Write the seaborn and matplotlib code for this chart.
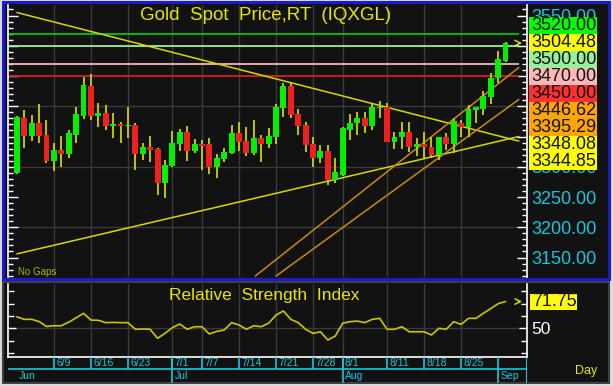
import numpy as np
import pandas as pd
import seaborn as sns
import matplotlib.pyplot as plt
from matplotlib.patches import Rectangle
from matplotlib.ticker import MultipleLocator, FormatStrFormatter


# ---------------- DATA ---------------- #

dates = pd.bdate_range("2025-06-02", "2025-09-02")

opens = [3290, 3381, 3351, 3373, 3353, 3309, 3327, 3321, 3353, 3384, 3434,
         3384, 3389, 3367, 3370, 3367, 3369, 3321, 3333, 3329, 3273, 3301,
         3337, 3357, 3326, 3338, 3337, 3299, 3313, 3322, 3356, 3343, 3323,
         3347, 3337, 3350, 3397, 3434, 3387, 3369, 3337, 3314, 3326, 3278,
         3286, 3361, 3372, 3381, 3368, 3397, 3398, 3341, 3349, 3358, 3333,
         3338, 3332, 3319, 3349, 3338, 3373, 3365, 3394, 3395, 3416, 3446,
         3475]
highs = [3384, 3394, 3385, 3403, 3377, 3339, 3351, 3361, 3399, 3449, 3454,
         3406, 3402, 3389, 3374, 3398, 3372, 3339, 3351, 3331, 3311, 3359,
         3362, 3367, 3346, 3344, 3347, 3321, 3331, 3369, 3374, 3366, 3377,
         3352, 3364, 3403, 3438, 3438, 3395, 3374, 3350, 3336, 3336, 3315,
         3366, 3387, 3391, 3391, 3403, 3409, 3405, 3358, 3374, 3374, 3347,
         3358, 3350, 3349, 3355, 3380, 3377, 3402, 3398, 3425, 3455, 3492,
         3506]
lows = [3288, 3331, 3343, 3339, 3306, 3293, 3300, 3314, 3339, 3379, 3377,
        3365, 3361, 3347, 3339, 3347, 3295, 3311, 3308, 3253, 3248, 3300,
        3326, 3310, 3322, 3295, 3288, 3281, 3308, 3321, 3326, 3318, 3319,
        3308, 3331, 3337, 3383, 3381, 3352, 3325, 3300, 3307, 3270, 3274,
        3284, 3344, 3352, 3355, 3361, 3380, 3341, 3330, 3330, 3325, 3318,
        3314, 3314, 3312, 3328, 3322, 3350, 3350, 3372, 3386, 3404, 3438,
        3474]
closes = [3382, 3351, 3373, 3351, 3310, 3327, 3321, 3355, 3387, 3435, 3384,
          3389, 3367, 3370, 3367, 3369, 3321, 3333, 3328, 3273, 3303, 3339,
          3357, 3326, 3337, 3335, 3300, 3315, 3325, 3355, 3341, 3323, 3347,
          3338, 3351, 3398, 3434, 3386, 3367, 3336, 3314, 3326, 3278, 3291,
          3364, 3373, 3381, 3368, 3398, 3399, 3341, 3349, 3357, 3333, 3338,
          3332, 3319, 3349, 3338, 3376, 3366, 3395, 3398, 3417, 3447, 3478,
          3504.48]

rsi = [59.4, 57.3, 57.3, 55.5, 51.5, 52.1, 52.1, 55.0, 58.5, 62.2, 56.7,
       56.5, 54.6, 54.8, 54.6, 54.6, 49.2, 49.5, 49.2, 41.9, 45.9, 50.5,
       53.5, 49.2, 51.3, 51.3, 45.4, 47.5, 48.6, 54.6, 52.7, 49.2, 52.1,
       51.3, 54.1, 60.8, 64.1, 57.3, 54.6, 49.2, 45.9, 47.2, 40.5, 43.7,
       54.1, 55.4, 55.9, 54.6, 57.3, 58.1, 49.2, 49.2, 51.3, 47.2, 47.2,
       47.2, 44.6, 50.0, 49.2, 55.4, 53.2, 58.1, 58.1, 62.2, 66.0, 70.0,
       71.75]

levels = [3520, 3500, 3470, 3450]
level_colors = ["#00c800", "#a0e8a0", "#f0b8b8", "#d42020"]

# trendlines: (index anchors, price anchors)
trend_yellow_down = ([0, 66], [3555.0, 3348.08])
trend_yellow_up = ([0, 66], [3156.0, 3344.85])
trend_orange_hi = ([32.2, 66], [3119.4, 3446.62])
trend_orange_lo = ([35.0, 66], [3119.4, 3395.29])

box_values = [3520.00, 3504.48, 3500.00, 3470.00, 3450.00,
              3446.62, 3395.29, 3348.08, 3344.85]
box_colors = ["#00ff00", "#ffff00", "#98f098", "#ffb8b8", "#ff3030",
              "#ffa500", "#ffa500", "#ffff00", "#ffff00"]

week_labels = ["6/9", "6/16", "6/23", "7/1", "7/7", "7/14", "7/21",
               "7/28", "8/1", "8/11", "8/18", "8/25"]
month_labels = ["Jun", "Jul", "Aug", "Sep"]
month_numbers = [6, 7, 8, 9]

rsi_last = 71.75


# ---------------- LAYOUT HELPERS ---------------- #

W, H = 613, 386
CYAN = "#18c8dc"
YELLOW = "#e6e600"
BG = "#121212"
GRID = "#3a3a3a"


def px_rect(x0, y0, x1, y1):
    return [x0 / W, 1 - y1 / H, (x1 - x0) / W, (y1 - y0) / H]


def fig_box(fig, x0, y0, x1, y1, **kw):
    r = Rectangle((x0 / W, 1 - y1 / H), (x1 - x0) / W, (y1 - y0) / H,
                  transform=fig.transFigure, **kw)
    fig.add_artist(r)
    return r


def extend(line, x_end=67.8, x_start=None):
    xs, ys = line
    slope = (ys[1] - ys[0]) / (xs[1] - xs[0])
    x0 = xs[0] if x_start is None else x_start
    return [x0, x_end], [ys[0] + slope * (x0 - xs[0]), ys[0] + slope * (x_end - xs[0])]


sns.set_style("dark", {"axes.facecolor": BG})
plt.rcParams["font.family"] = ["Liberation Sans", "DejaVu Sans"]

idx = np.arange(len(dates))
week_idx = [dates.get_loc(pd.Timestamp(2025, int(s.split("/")[0]), int(s.split("/")[1])))
            for s in week_labels]
month_idx = [int(np.where(dates.month == m)[0][0]) for m in month_numbers]
xlim = (-1.2, 68.9)

fig = plt.figure(figsize=(W / 100, H / 100), dpi=100, facecolor="#dcdcdc")

# panel backgrounds
fig_box(fig, 3, 2, 609, 279, facecolor=BG, edgecolor="#1a1ad2", lw=2.2, zorder=-2)
fig_box(fig, 3, 282, 609, 383, facecolor=BG, edgecolor="#404040", lw=1.5, zorder=-2)

# ---------------- PRICE PANEL ---------------- #

ax = fig.add_axes(px_rect(8, 5, 527, 277))
ax.set_facecolor(BG)
ax.set_xlim(*xlim)
ax.set_ylim(3117.8, 3567.4)

for g in [3200, 3300, 3400, 3500]:
    ax.axhline(g, color=GRID, lw=1, zorder=0)
for w in week_idx:
    ax.axvline(w, color=GRID, lw=1, zorder=0)

for lv, lc in zip(levels, level_colors):
    ax.hlines(lv, xlim[0], 67.8, color=lc, lw=1.3, zorder=1)

for line, col, start in [(trend_yellow_down, "#d8d800", None),
                         (trend_yellow_up, "#d8d800", None),
                         (trend_orange_hi, "#c88a10", None),
                         (trend_orange_lo, "#c88a10", None)]:
    xs, ys = extend(line, x_start=start)
    ax.plot(xs, ys, color=col, lw=1.1, zorder=2)

o = np.array(opens, dtype=float)
c = np.array(closes, dtype=float)
up = c >= o
body_colors = np.where(up, "#00f000", "#f02020")
ax.vlines(idx, lows, highs, color="#d0d000", lw=1.3, zorder=3)
ax.bar(idx, np.maximum(np.abs(c - o), 1.8), bottom=np.minimum(o, c), width=0.8,
       color=body_colors, linewidth=0, zorder=4)

ax.annotate("", xy=(68.6, closes[-1]), xytext=(67.4, closes[-1]),
            arrowprops=dict(arrowstyle="->", color=YELLOW, lw=1))

for side in ["top", "bottom"]:
    ax.spines[side].set_visible(False)
for side in ["left", "right"]:
    ax.spines[side].set_visible(True)
    ax.spines[side].set_color("white")
    ax.spines[side].set_linewidth(1.2)
ax.set_xticks([])
ax.yaxis.set_major_locator(MultipleLocator(50))
ax.yaxis.set_minor_locator(MultipleLocator(10))
ax.yaxis.set_major_formatter(FormatStrFormatter("%.2f"))
ax.tick_params(axis="y", which="both", left=True, right=True, labelleft=False,
               labelright=True, direction="in", color="white", labelcolor=CYAN,
               labelsize=13, pad=3)
ax.tick_params(axis="y", which="major", length=7, width=1)
ax.tick_params(axis="y", which="minor", length=3.5, width=1)

ax.text(0.497, 0.963, "Gold  Spot  Price,RT  (IQXGL)", transform=ax.transAxes,
        ha="center", va="center", color=YELLOW, fontsize=13.5)
ax.text(0.019, 0.02, "No Gaps", transform=ax.transAxes, ha="left", va="center",
        color="#a8b800", fontsize=7)

# stacked value boxes on the right axis
for i, (v, bc) in enumerate(zip(box_values, box_colors)):
    y0 = 16.7 + i * 17.05
    fig_box(fig, 529, y0, 597, y0 + 17.05, facecolor=bc, edgecolor="none", zorder=2)
    fig.text(531 / W, 1 - (y0 + 8.8) / H, f"{v:.2f}", ha="left", va="center",
             color="#101010", fontsize=13, zorder=3)

# ---------------- RSI PANEL ---------------- #

rax = fig.add_axes(px_rect(8, 284, 527, 357))
rax.set_facecolor(BG)
rax.set_xlim(*xlim)
rax.set_ylim(26.7, 86)
rax.axhline(50, color=GRID, lw=1, zorder=0)
for w in week_idx:
    rax.axvline(w, color=GRID, lw=1, zorder=0)

sns.lineplot(x=idx, y=rsi, ax=rax, color="#c8c800", lw=1.2)
rax.annotate("", xy=(68.6, rsi_last), xytext=(67.4, rsi_last),
             arrowprops=dict(arrowstyle="->", color=YELLOW, lw=1))

rax.spines["top"].set_visible(False)
for side in ["left", "right", "bottom"]:
    rax.spines[side].set_visible(True)
    rax.spines[side].set_color("white")
    rax.spines[side].set_linewidth(1.2)
rax.set_xticks([])
rax.set_yticks([50])
rax.set_yticklabels(["50"])
rax.yaxis.set_minor_locator(MultipleLocator(10))
rax.tick_params(axis="y", which="both", left=True, right=True, labelleft=False,
                labelright=True, direction="in", color="white", labelcolor="white",
                labelsize=12.5, pad=3)
rax.tick_params(axis="y", which="major", length=6, width=1)
rax.tick_params(axis="y", which="minor", length=4, width=1)

rax.text(0.494, 0.84, "Relative  Strength  Index", transform=rax.transAxes,
         ha="center", va="center", color=YELLOW, fontsize=12.5)

fig_box(fig, 530, 294, 577, 310, facecolor="#ffff00", edgecolor="none", zorder=2)
fig.text(532 / W, 1 - 302 / H, f"{rsi_last:.2f}", ha="left", va="center",
         color="#101010", fontsize=13, zorder=3)

# ---------------- DATE AXIS ---------------- #

dax = fig.add_axes(px_rect(8, 357, 527, 383))
dax.set_facecolor(BG)
dax.set_xlim(*xlim)
dax.set_ylim(0, 1)
dax.axis("off")
split = 14 / 26
dax.hlines(split, xlim[0], xlim[1], color=CYAN, lw=1.2)
dax.vlines(week_idx, split, 1, color=CYAN, lw=1.2)
dax.vlines(month_idx[1:], 0, 1, color=CYAN, lw=1.2)
dax.vlines(xlim[1], 0, 1, color=CYAN, lw=1.5)
for w, lab in zip(week_idx, week_labels):
    dax.text(w + 0.3, 0.76, lab, ha="left", va="center", color=CYAN, fontsize=7.5)
for m, lab in zip(month_idx, month_labels):
    dax.text(m + 0.3, 0.27, lab, ha="left", va="center", color=CYAN, fontsize=7.5)

fig.text(586 / W, 1 - 371 / H, "Day", ha="center", va="center", color=YELLOW,
         fontsize=9)

fig.savefig("out.png", dpi=100, facecolor=fig.get_facecolor())
